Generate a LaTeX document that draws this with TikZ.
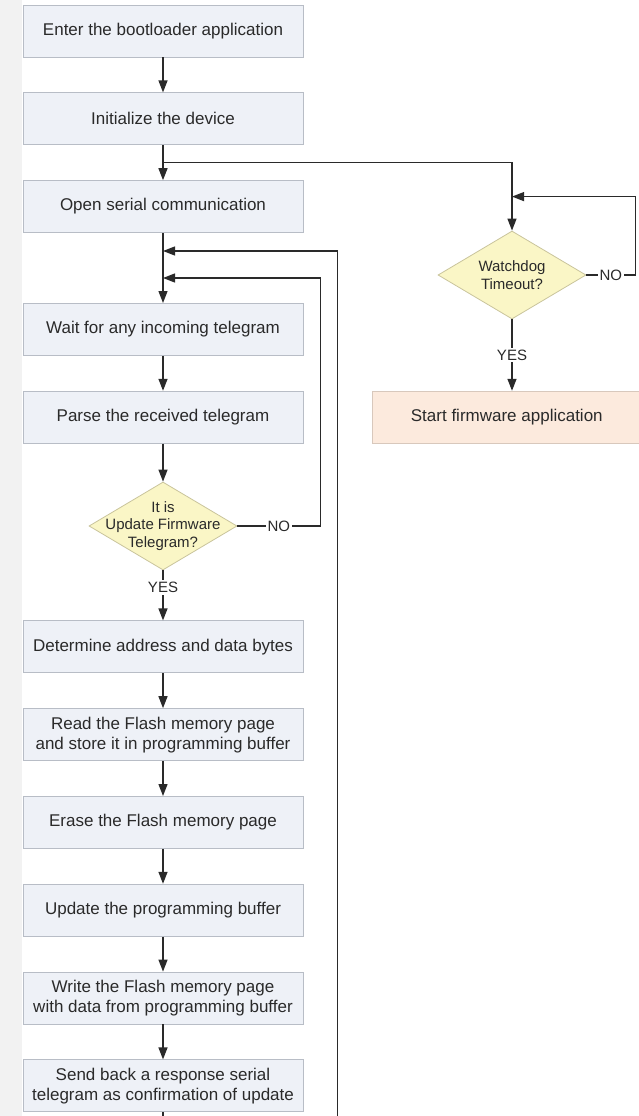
\documentclass[tikz,border=0pt]{standalone}
\usepackage{fontspec}
\setmainfont{Liberation Sans}
\usetikzlibrary{positioning,shapes.geometric,arrows.meta,calc}
\definecolor{boxfill}{HTML}{EEF1F7}
\definecolor{boxline}{HTML}{B8BDC6}
\definecolor{decfill}{HTML}{FAF6C6}
\definecolor{decline}{HTML}{C9C49C}
\definecolor{startfill}{HTML}{FCEADD}
\definecolor{startline}{HTML}{D8C8BC}
\definecolor{ink}{HTML}{2A2A2A}
\begin{document}
\begin{tikzpicture}
	[x=1pt,y=1pt,
	node distance=35pt,
	stepbox/.style={rectangle,draw=boxline,fill=boxfill,line width=0.8pt,
		minimum width=280pt,minimum height=52pt,align=center,text=ink,
		font=\fontsize{17}{20}\selectfont},
	startbox/.style={stepbox,draw=startline,fill=startfill,minimum width=268pt},
	decision/.style={diamond,draw=decline,fill=decfill,line width=0.8pt,
		inner sep=0pt,minimum width=148pt,minimum height=88pt},
	dtext/.style={align=center,text=ink,font=\fontsize{15}{17.5}\selectfont},
	tag/.style={fill=white,inner sep=2pt,text=ink,font=\fontsize{15}{17}\selectfont},
	arrow/.style={draw=ink,line width=1.3pt,-{Triangle[length=12pt,width=9pt]}},
	line/.style={draw=ink,line width=1.3pt}]
	\useasboundingbox (0,0) rectangle (638,-1116);
	\fill[gray!10] (0,0) rectangle (22,-1116);
	% main column
	\node[stepbox] (enter) at (163,-31) {Enter the bootloader application};
	\node[stepbox,below=of enter] (init) {Initialize the device};
	\node[stepbox,below=of init] (open) {Open serial communication};
	\node[stepbox,below=70pt of open] (wait) {Wait for any incoming telegram};
	\node[stepbox,below=of wait] (parse) {Parse the received telegram};
	\node[decision,below=38pt of parse,
		label={[dtext]center:{It is\\Update Firmware\\Telegram?}}] (upd) {};
	\node[stepbox,below=50pt of upd] (addr) {Determine address and data bytes};
	\node[stepbox,below=of addr] (read) {Read the Flash memory page\\and store it in programming buffer};
	\node[stepbox,below=of read] (erase) {Erase the Flash memory page};
	\node[stepbox,below=of erase] (buffer) {Update the programming buffer};
	\node[stepbox,below=of buffer] (write) {Write the Flash memory page\\with data from programming buffer};
	\node[stepbox,below=of write] (send) {Send back a response serial\\telegram as confirmation of update};
	% right column
	\node[decision,label={[dtext]center:{Watchdog\\Timeout?}}] (wd) at (512,-275) {};
	\node[startbox,right=69pt of parse] (start) {Start firmware application};
	% join points
	\coordinate (split) at ($(init.south)!0.5!(open.north)$);
	\coordinate (join1) at ($(open.south)+(0,-18)$);
	\coordinate (join2) at ($(open.south)+(0,-45)$);
	\coordinate (outer) at ($(open.east)+(34,0)$);
	\coordinate (inner) at ($(open.east)+(17,0)$);
	\coordinate (wdjoin) at ($(wd.north)+(0,34)$);
	% connectors
	\draw[arrow] (enter) -- (init);
	\draw[arrow] (init) -- (open);
	\draw[arrow] (split) -| (wd.north);
	\draw[arrow] (open) -- (wait);
	\draw[arrow] (wait) -- (parse);
	\draw[arrow] (parse) -- (upd);
	\draw[arrow] (upd) -- node[tag,pos=0.34] {YES} (addr);
	\draw[arrow] (addr) -- (read);
	\draw[arrow] (read) -- (erase);
	\draw[arrow] (erase) -- (buffer);
	\draw[arrow] (buffer) -- (write);
	\draw[arrow] (write) -- (send);
	\draw[arrow] (upd.east) -- node[tag] {NO} (upd.east -| inner) |- (join2);
	\draw[arrow] (send.south) -- ++(0,-40) -| (outer |- join1) -- (join1);
	\draw[arrow] (wd.east) -- node[tag] {NO} ++(49,0) |- (wdjoin);
	\draw[arrow] (wd.south) -- node[tag] {YES} (wd.south |- start.north);
\end{tikzpicture}
\end{document}
